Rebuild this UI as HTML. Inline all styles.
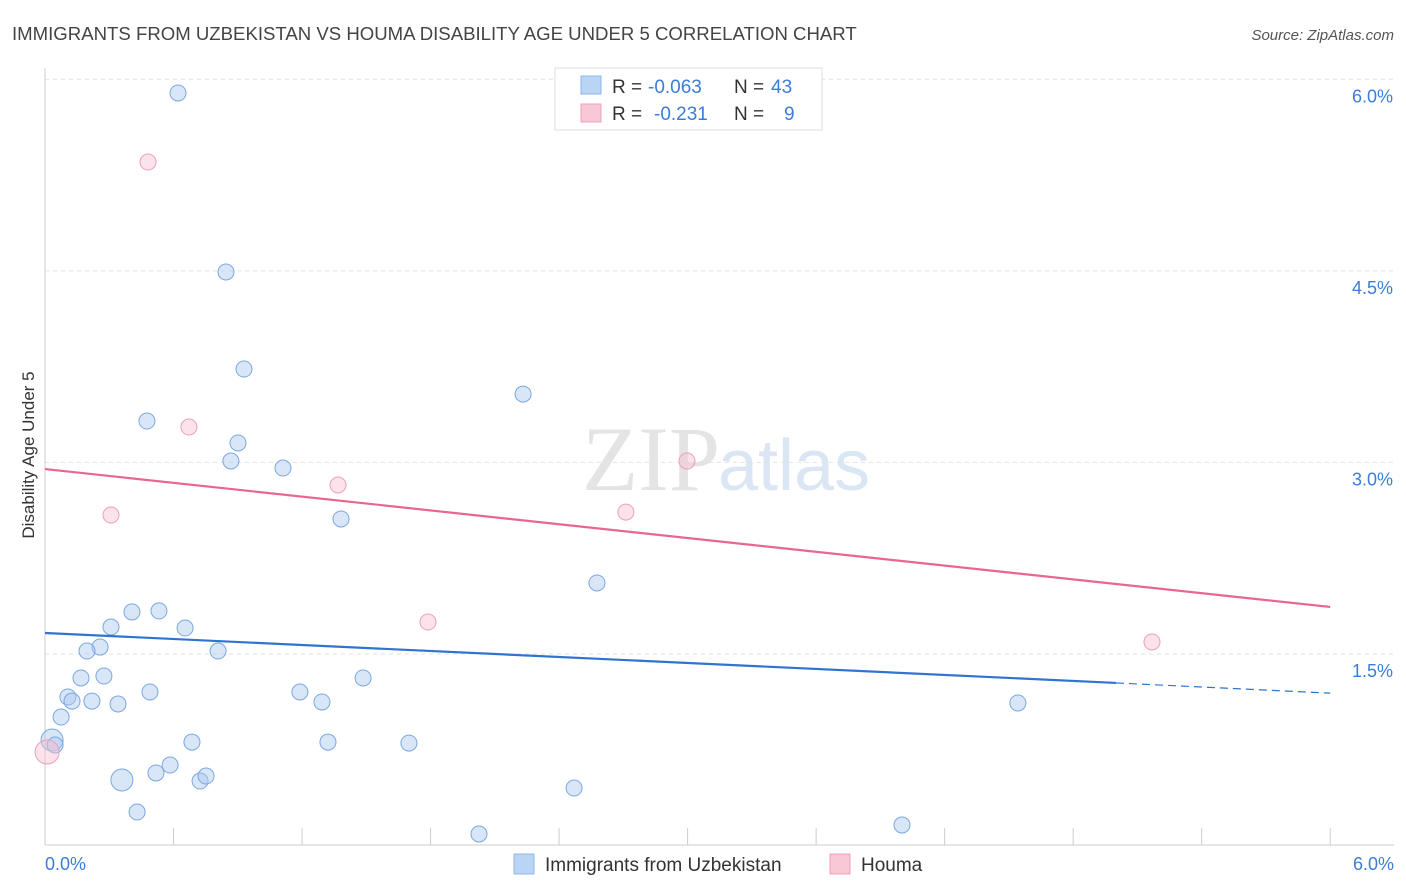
<!DOCTYPE html>
<html><head><meta charset="utf-8"><style>
body{margin:0;background:#fff;font-family:"Liberation Sans",sans-serif;}
svg{display:block}
</style></head><body>
<svg width="1406" height="892" id="chart">
<text x="12" y="40" font-size="18.6" fill="#444">IMMIGRANTS FROM UZBEKISTAN VS HOUMA DISABILITY AGE UNDER 5 CORRELATION CHART</text>
<text x="1394" y="40" font-size="15" fill="#555" font-style="italic" text-anchor="end">Source: ZipAtlas.com</text>
<text x="720" y="490" font-size="92" fill="#e4e4e4" text-anchor="end" font-family="Liberation Serif">ZIP</text>
<text x="718" y="490" font-size="72" fill="#dbe6f5">atlas</text>
<text transform="translate(34,455) rotate(-90)" font-size="17" fill="#333" text-anchor="middle">Disability Age Under 5</text>
<g id="grid"></g><g id="marks"></g>
<g font-size="19">
<rect x="555" y="68" width="267" height="62" fill="#fff" stroke="#ddd"/>
<rect x="581" y="76" width="20" height="18" fill="#b9d4f5" stroke="#8db6ea"/>
<rect x="581" y="104" width="20" height="18" fill="#f9c8d6" stroke="#f0a2b8"/>
<text x="612" y="93" fill="#333">R =</text>
<text x="648" y="93" fill="#3b7dd8">-0.063</text>
<text x="734" y="93" fill="#333">N =</text>
<text x="771" y="93" fill="#3b7dd8">43</text>
<text x="612" y="120" fill="#333">R =</text>
<text x="654" y="120" fill="#3b7dd8">-0.231</text>
<text x="734" y="120" fill="#333">N =</text>
<text x="784" y="120" fill="#3b7dd8">9</text>
</g>
<g>
<rect x="514" y="854" width="20" height="20" fill="#b9d4f5" stroke="#8db6ea"/>
<text x="545" y="871" font-size="19" fill="#333">Immigrants from Uzbekistan</text>
<rect x="830" y="854" width="20" height="20" fill="#f9c8d6" stroke="#f0a2b8"/>
<text x="861" y="871" font-size="19" fill="#333">Houma</text>
</g>
</svg>
<script>
const yTicks=[1.5,3.0,4.5,6.0];
const yTickLabels=["1.5%","3.0%","4.5%","6.0%"];
const xTickLabels=["0.0%","6.0%"];
const blueX=[0.621,0.845,0.929,2.232,0.476,0.901,0.868,1.111,1.382,2.577,0.406,0.532,0.308,0.654,0.257,0.196,0.808,0.168,0.275,1.485,0.107,0.126,0.219,0.341,0.490,1.190,1.293,4.542,0.075,0.033,0.047,0.686,1.321,1.699,0.359,0.518,0.584,0.724,0.752,2.470,0.430,2.026,4.001];
const blueY=[5.893,4.491,3.731,3.535,3.324,3.152,3.011,2.956,2.557,2.056,1.829,1.837,1.711,1.703,1.554,1.523,1.523,1.312,1.327,1.312,1.163,1.131,1.131,1.108,1.202,1.202,1.124,1.116,1.006,0.826,0.787,0.810,0.810,0.802,0.513,0.568,0.630,0.505,0.544,0.450,0.262,0.090,0.161];
const blueBig=[29,34];
const pinkX=[0.481,0.672,0.308,1.368,2.997,2.712,1.788,5.168,0.01];
const pinkY=[5.352,3.277,2.588,2.823,3.011,2.611,1.750,1.594,0.732];
const pinkBig=[8];
const blueTrend=[1.664,1.273,1.193]; // at x=0,5,6
const pinkTrend=[2.948,1.868]; // at x=0,6
const X=v=>45+v*214.2, Y=v=>845.5-v*127.7;
const NS="http://www.w3.org/2000/svg";
function mk(t,a,p){const e=document.createElementNS(NS,t);for(const k in a)e.setAttribute(k,a[k]);p.appendChild(e);return e;}
const g=document.getElementById('grid'), m=document.getElementById('marks');
yTicks.forEach((t,i)=>{
 const l=mk('line',{x1:45,x2:1394,y1:Y(t),y2:Y(t),stroke:'#e2e2e2','stroke-dasharray':'4,4'},g);
 
 
 const tx=mk('text',{x:1393,y:Y(t)+23,'font-size':18,fill:'#3b7dd8','text-anchor':'end'},g);
 tx.textContent=yTickLabels[i];
 
 
});
const ax=mk('line',{x1:45,x2:45,y1:68,y2:845,stroke:'#ccc'},g);


const bx=mk('line',{x1:45,x2:1394,y1:845,y2:845,stroke:'#ccc'},g);


for(let i=0;i<=10;i++){const v=i*0.6;
 const t=mk('line',{x1:X(v),x2:X(v),y1:828,y2:845,stroke:'#ccc'},g);
 
 }
[[0,'start',45],[6,'end',1394]].forEach((d,i)=>{
 const t=mk('text',{x:d[2],y:870,'font-size':18,fill:'#3b7dd8','text-anchor':d[1]},g);
 t.textContent=xTickLabels[i];
 
 });
blueX.forEach((v,i)=>{const big=blueBig.includes(i);
 const c=mk('circle',{cx:X(v),cy:Y(blueY[i]),r:big?11:8,fill:'rgba(170,200,240,0.45)',stroke:'#7aa8e0','stroke-width':1},m);
 
 });
pinkX.forEach((v,i)=>{const big=pinkBig.includes(i);
 const c=mk('circle',{cx:X(v),cy:Y(pinkY[i]),r:big?12:8,fill:'rgba(248,190,208,0.45)',stroke:'#eea0b6','stroke-width':1},m);
 
 });
let l=mk('line',{x1:X(0),y1:Y(blueTrend[0]),x2:X(5),y2:Y(blueTrend[1]),stroke:'#2f74d0','stroke-width':2.2},m);


l=mk('line',{x1:X(5),y1:Y(blueTrend[1]),x2:X(6),y2:Y(blueTrend[2]),stroke:'#2f74d0','stroke-width':1.2,'stroke-dasharray':'8,5'},m);


l=mk('line',{x1:X(0),y1:Y(pinkTrend[0]),x2:X(6),y2:Y(pinkTrend[1]),stroke:'#e8668f','stroke-width':2.2},m);


</script>
</body></html>
